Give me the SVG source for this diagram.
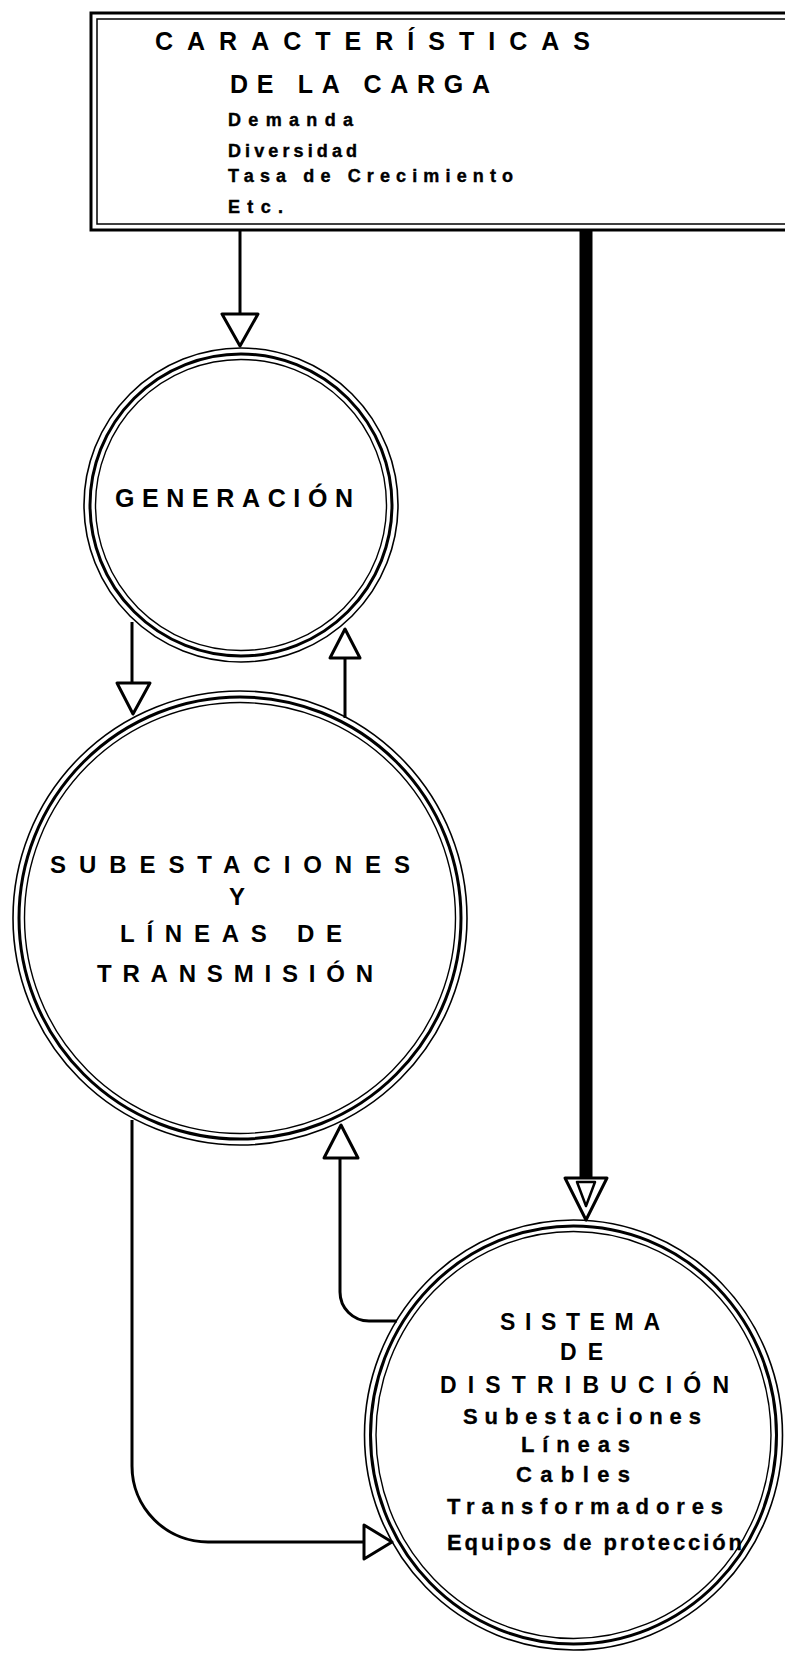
<svg xmlns="http://www.w3.org/2000/svg" width="785" height="1655" viewBox="0 0 785 1655">
<style>
.ro{fill:none;stroke:#000;stroke-width:1.6}
.rm{fill:none;stroke:#000;stroke-width:3}
.ri{fill:none;stroke:#000;stroke-width:1.4}
.cap{font-family:"Liberation Sans",Arial,sans-serif;font-weight:bold;font-size:25px;fill:#000}
.sm{font-family:"Liberation Sans",Arial,sans-serif;font-weight:bold;font-size:18px;fill:#000;stroke:#000;stroke-width:0.4}
.mid{font-family:"Liberation Sans",Arial,sans-serif;font-weight:bold;font-size:22px;fill:#000;stroke:#000;stroke-width:0.3}
.ln{fill:none;stroke:#000;stroke-width:3}
.ah{fill:#fff;stroke:#000;stroke-width:3;stroke-linejoin:round}
</style>
<rect width="785" height="1655" fill="#fff"/>
<g id="carga">
<rect x="91" y="13" width="720" height="217" fill="none" stroke="#000" stroke-width="3"/>
<rect x="97" y="19" width="708" height="205" fill="none" stroke="#000" stroke-width="1.5"/>
<text class="cap" x="155" y="50" textLength="435" lengthAdjust="spacing">CARACTERÍSTICAS</text>
<text class="cap" x="230" y="93" textLength="260" lengthAdjust="spacing">DE LA CARGA</text>
<text class="sm" x="228" y="126" textLength="125" lengthAdjust="spacing">Demanda</text>
<text class="sm" x="228" y="157" textLength="129" lengthAdjust="spacing">Diversidad</text>
<text class="sm" x="228" y="182" textLength="285" lengthAdjust="spacing">Tasa de Crecimiento</text>
<text class="sm" x="228" y="213" textLength="55" lengthAdjust="spacing">Etc.</text>
</g>
<g id="generacion">
<circle class="ro" cx="241" cy="505" r="157"/>
<circle class="rm" cx="241" cy="505" r="151"/>
<circle class="ri" cx="241" cy="505" r="145.5"/>
<text class="cap" x="115" y="507" textLength="238" lengthAdjust="spacing">GENERACIÓN</text>
</g>
<g id="subestaciones">
<circle class="ro" cx="240" cy="918" r="227"/>
<circle class="rm" cx="240" cy="918" r="221"/>
<circle class="ri" cx="240" cy="918" r="215.5"/>
<text class="cap" x="50" y="873" textLength="360" lengthAdjust="spacing" style="font-size:24px">SUBESTACIONES</text>
<text class="cap" x="237" y="905" text-anchor="middle" style="font-size:24px">Y</text>
<text class="cap" x="120" y="942" textLength="222" lengthAdjust="spacing" style="font-size:24px">LÍNEAS DE</text>
<text class="cap" x="97" y="982" textLength="276" lengthAdjust="spacing" style="font-size:24px">TRANSMISIÓN</text>
</g>
<g id="distribucion">
<ellipse class="ro" cx="573.5" cy="1435" rx="209" ry="215"/>
<ellipse class="rm" cx="573.5" cy="1435" rx="203" ry="209"/>
<ellipse class="ri" cx="573.5" cy="1435" rx="197.5" ry="203.5"/>
<text class="cap" x="500" y="1330" textLength="160" lengthAdjust="spacing" style="font-size:23px">SISTEMA</text>
<text class="cap" x="560" y="1360" textLength="43" lengthAdjust="spacing" style="font-size:23px">DE</text>
<text class="cap" x="440" y="1393" textLength="289" lengthAdjust="spacing" style="font-size:23px">DISTRIBUCIÓN</text>
<text class="mid" x="463" y="1424" textLength="238" lengthAdjust="spacing">Subestaciones</text>
<text class="mid" x="521" y="1452" textLength="109" lengthAdjust="spacing">Líneas</text>
<text class="mid" x="516" y="1482" textLength="114" lengthAdjust="spacing">Cables</text>
<text class="mid" x="447" y="1514" textLength="276" lengthAdjust="spacing">Transformadores</text>
<text class="mid" x="447" y="1550" textLength="295" lengthAdjust="spacing">Equipos de protección</text>
</g>
<g id="connectors">
<path class="ln" d="M240 230 V314"/>
<path class="ah" d="M222 314 H258 L240 346 Z"/>
<path class="ln" d="M132 622 V683"/>
<path class="ah" d="M117 683 H150 L133 714 Z"/>
<path class="ln" d="M345 718 V658"/>
<path class="ah" d="M330 658 H360 L345 629 Z"/>
<path class="ln" d="M132 1120 V1466 A76 76 0 0 0 208 1542 H364"/>
<path class="ah" d="M364 1525 V1559 L392 1542 Z"/>
<path class="ln" d="M397 1321 H369 A29 29 0 0 1 340 1292 V1158"/>
<path class="ah" d="M324 1158 H358 L341 1125 Z"/>
<path d="M586 230 V1186" stroke="#000" stroke-width="13" fill="none"/>
<path class="ah" d="M565 1178 H607 L586 1220 Z"/>
<path d="M577 1182 H595 L586 1206 Z" fill="#fff" stroke="#000" stroke-width="2.5" stroke-linejoin="round"/>
</g>
</svg>
